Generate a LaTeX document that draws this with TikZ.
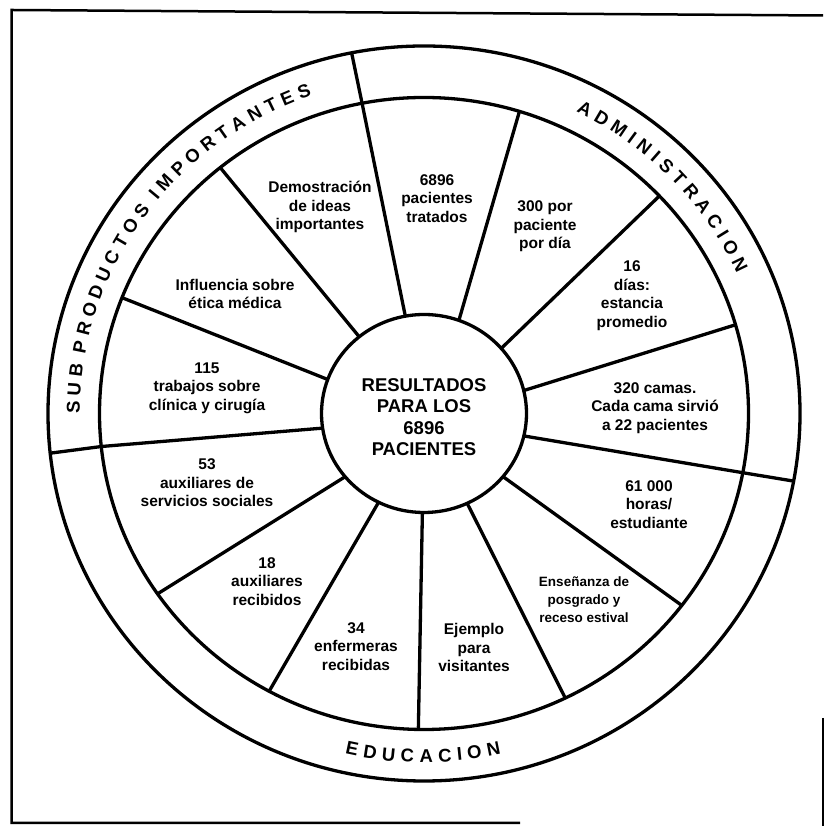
\documentclass[tikz,border=0pt]{standalone}
\usepackage{fontspec}
\setmainfont{Liberation Sans}
\newcommand\ringfont{\fontsize{18.5}{18.5}\selectfont\bfseries}
\newcommand\fst{\rule{0pt}{16pt}}
\def\rsp{-}
% list of letter/width(em), start angle, gap(pt), sign, name prefix, baseline radius
\newcommand\ringtext[6]{%
  \xdef\rang{#2}\xdef\rprev{-1}%
  \foreach \L/\w [count=\n] in {#1}{%
    \ifdim\rprev pt<0pt \else
      \pgfmathsetmacro\rtmp{\rang+(#4)*0.16729*((\rprev+\w)*9.25+#3)}%
      \xdef\rang{\rtmp}%
    \fi
    \xdef\rprev{\w}%
    \ifx\L\rsp\else
      \pgfmathsetmacro\rr{\rang+(#4)*90}%
      \node[ringlet, rotate=\rr] (#5\n) at ({424+1.025*#6*cos(\rang)},{412.5+#6*sin(\rang)}) {\L};
    \fi
  }%
}
\tikzset{
  frameline/.style={line width=2.5pt},
  wheel/.style={line width=3.3pt},
  spoke/.style={line width=3.3pt},
  ringlet/.style={inner sep=0pt, anchor=base, font=\ringfont},
  sec/.style={inner sep=0pt, anchor=north, align=center, font=\fontsize{15.5}{18.5}\selectfont\bfseries},
  secs/.style={inner sep=0pt, anchor=north, align=center, font=\fontsize{13.5}{18.3}\selectfont\bfseries},
  ctr/.style={inner sep=0pt, anchor=north, align=center, font=\fontsize{18.5}{21.1}\selectfont\bfseries}
}
\begin{document}
\begin{tikzpicture}[x=1pt,y=1pt]
\useasboundingbox (0,0) rectangle (824,826);
% frame
\coordinate (fbl) at (11.5,3);
\coordinate (ftl) at (11.5,816);
\coordinate (ftr) at (823,810.5);
\coordinate (fbr) at (520,3);
\coordinate (frt) at (823,108);
\coordinate (frb) at (823,0);
\draw[frameline] (fbr) -- (fbl) -- (ftl) -- (ftr);
\draw[frameline] (frt) -- (frb);
% wheel
\coordinate (c) at (424,412.5);
\draw[wheel] (c) ellipse [x radius=376pt, y radius=367.5pt];
\draw[wheel] (c) ellipse [x radius=324.5pt, y radius=316pt];
\draw[wheel] (c) ellipse [x radius=102.5pt, y radius=99pt];
% spokes
\foreach \i/\a/\b in {1/100.5/101.0, 2/70.1/72.9, 3/41.1/43.5, 4/13.4/16.3, 5/-13.1/-10.8, 6/-39.6/-37.4, 7/-65.1/-64.2, 8/-90.9/-91.0, 9/-116.3/-118.5, 10/-140.3/-145.2, 11/-171.5/-174.0, 12/159.9/158.5, 13/129.2/128.9}{
  \coordinate (in\i) at ({424+102.5*cos(\a)},{412.5+99*sin(\a)});
  \coordinate (out\i) at ({424+324.5*cos(\b)},{412.5+316*sin(\b)});
  \draw[spoke] (in\i) -- (out\i);
}
\foreach \i/\c in {1/101.1, 5/-10.6, 11/-173.8}{
  \coordinate (rim\i) at ({424+376*cos(\c)},{412.5+367.5*sin(\c)});
  \draw[spoke] (out\i) -- (rim\i);
}
% center text
\node[ctr] (centro) at (424,450.3) {\fst RESULTADOS\\PARA LOS\\6896\\PACIENTES};
% sector texts
\node[sec] (demo) at (320,649.5) {\fst Demostración\\de ideas\\importantes};
\node[sec] (pac) at (437,657) {\fst 6896\\pacientes\\tratados};
\node[sec] (cost) at (545,630.5) {\fst 300 por\\paciente\\por día};
\node[sec] (dias) at (632,570.5) {\fst 16\\días:\\estancia\\promedio};
\node[sec] (camas) at (655,449) {\fst 320 camas.\\Cada cama sirvió\\a 22 pacientes};
\node[sec] (horas) at (649,351) {\fst 61 000\\horas/\\estudiante};
\node[secs] (ense) at (584,256) {\fst Enseñanza de\\posgrado y\\receso estival};
\node[sec] (ejem) at (474,207.5) {\fst Ejemplo\\para\\visitantes};
\node[sec] (enf) at (356,209) {\fst 34\\enfermeras\\recibidas};
\node[sec] (aux) at (267,274) {\fst 18\\auxiliares\\recibidos};
\node[sec] (soc) at (207,372.5) {\fst 53\\auxiliares de\\servicios sociales};
\node[sec] (trab) at (207,469) {\fst 115\\trabajos sobre\\clínica y cirugía};
\node[sec] (etica) at (235,552) {\fst Influencia sobre\\ética médica};
% ring texts
\ringtext{S/0.667,U/0.722,B/0.722,-/0,P/0.667,R/0.722,O/0.778,D/0.722,U/0.722,C/0.722,T/0.611,O/0.778,S/0.667,-/0,I/0.278,M/0.833,P/0.667,O/0.778,R/0.722,T/0.611,A/0.722,N/0.722,T/0.611,E/0.667,S/0.667}{179}{5.54}{-1}{sp}{336}
\ringtext{A/0.722,D/0.722,M/0.833,I/0.278,N/0.722,I/0.278,S/0.667,T/0.611,R/0.722,A/0.722,C/0.722,I/0.278,O/0.778,N/0.722}{62.7}{5.51}{-1}{ad}{336}
\ringtext{E/0.667,D/0.722,U/0.722,C/0.722,A/0.722,C/0.722,I/0.278,O/0.778,N/0.722}{-101.8}{4.94}{1}{ed}{349}
\end{tikzpicture}
\end{document}
